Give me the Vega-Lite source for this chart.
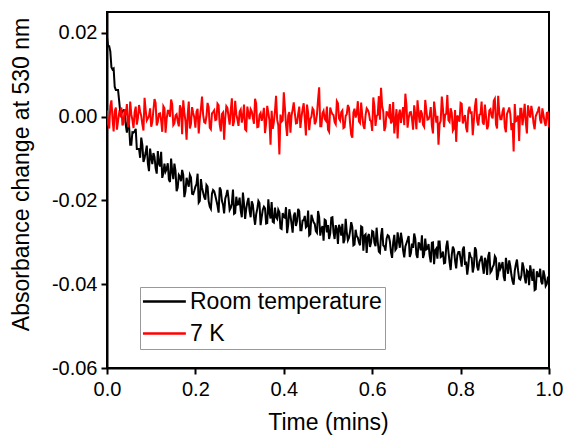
{
  "$schema": "https://vega.github.io/schema/vega-lite/v6.json",
  "width": 442,
  "height": 356,
  "autosize": {"type": "none"},
  "padding": {"left": 107, "top": 12, "right": 15, "bottom": 69},
  "background": "white",
  "config": {
    "font": "Liberation Sans",
    "view": {"stroke": "black", "strokeWidth": 2},
    "axis": {
      "domainColor": "black", "domainWidth": 2,
      "tickColor": "black", "tickWidth": 2, "tickSize": 6,
      "labelColor": "black", "labelFont": "Liberation Sans", "labelFontSize": 20,
      "titleColor": "black", "titleFont": "Liberation Sans", "titleFontSize": 23, "titleFontWeight": "normal",
      "grid": false
    }
  },
  "data": {"values": [
{"t":0,"rt":0.019,"k7":0.0015},
{"t":0.005,"rt":0.0168,"k7":-0.0028},
{"t":0.01,"rt":0.0118,"k7":0.0039},
{"t":0.015,"rt":0.0115,"k7":-0.0035},
{"t":0.02,"rt":0.0064,"k7":0.0022},
{"t":0.025,"rt":0.0064,"k7":-0.001},
{"t":0.03,"rt":0.0011,"k7":0.0004},
{"t":0.035,"rt":0.0013,"k7":-0.0021},
{"t":0.04,"rt":0.0016,"k7":0.0018},
{"t":0.045,"rt":-0.0038,"k7":0.003},
{"t":0.05,"rt":-0.0023,"k7":-0.0015},
{"t":0.055,"rt":-0.0067,"k7":0.0006},
{"t":0.06,"rt":-0.0038,"k7":-0.0027},
{"t":0.065,"rt":-0.0029,"k7":0.0024},
{"t":0.07,"rt":-0.0077,"k7":-0.0003},
{"t":0.075,"rt":-0.0098,"k7":0.0012},
{"t":0.08,"rt":-0.0067,"k7":-0.0018},
{"t":0.085,"rt":-0.0099,"k7":0.0045},
{"t":0.09,"rt":-0.0069,"k7":-0.0009},
{"t":0.095,"rt":-0.013,"k7":0.0002},
{"t":0.1,"rt":-0.0097,"k7":-0.0024},
{"t":0.105,"rt":-0.0087,"k7":0.0016},
{"t":0.11,"rt":-0.0123,"k7":0.0033},
{"t":0.115,"rt":-0.0082,"k7":-0.0012},
{"t":0.12,"rt":-0.0119,"k7":0.0008},
{"t":0.125,"rt":-0.0146,"k7":-0.0036},
{"t":0.13,"rt":-0.0112,"k7":0.002},
{"t":0.135,"rt":-0.0125,"k7":-0.0005},
{"t":0.14,"rt":-0.015,"k7":0.0014},
{"t":0.145,"rt":-0.01,"k7":0.0041},
{"t":0.15,"rt":-0.0149,"k7":-0.002},
{"t":0.155,"rt":-0.0129,"k7":0.0003},
{"t":0.16,"rt":-0.0169,"k7":-0.0011},
{"t":0.165,"rt":-0.0143,"k7":0.0027},
{"t":0.17,"rt":-0.0127,"k7":-0.0042},
{"t":0.175,"rt":-0.0192,"k7":0.001},
{"t":0.18,"rt":-0.0146,"k7":-0.0055},
{"t":0.185,"rt":-0.0167,"k7":0.0036},
{"t":0.19,"rt":-0.0145,"k7":-0.0017},
{"t":0.195,"rt":-0.0185,"k7":0.0009},
{"t":0.2,"rt":-0.0167,"k7":-0.0026},
{"t":0.205,"rt":-0.0136,"k7":0.0019},
{"t":0.21,"rt":-0.0201,"k7":-0.0004},
{"t":0.215,"rt":-0.017,"k7":0.0048},
{"t":0.22,"rt":-0.0192,"k7":-0.0013},
{"t":0.225,"rt":-0.0163,"k7":0.0001},
{"t":0.23,"rt":-0.0202,"k7":0.0023},
{"t":0.235,"rt":-0.022,"k7":-0.003},
{"t":0.24,"rt":-0.0175,"k7":0.0011},
{"t":0.245,"rt":-0.0188,"k7":-0.0008},
{"t":0.25,"rt":-0.0212,"k7":0.0031},
{"t":0.255,"rt":-0.0169,"k7":-0.0019},
{"t":0.26,"rt":-0.0201,"k7":0.0006},
{"t":0.265,"rt":-0.0231,"k7":-0.0055},
{"t":0.27,"rt":-0.0187,"k7":0.0025},
{"t":0.275,"rt":-0.0195,"k7":0},
{"t":0.28,"rt":-0.0218,"k7":0.0015},
{"t":0.285,"rt":-0.0174,"k7":-0.0022},
{"t":0.29,"rt":-0.023,"k7":0.0038},
{"t":0.295,"rt":-0.021,"k7":-0.0006},
{"t":0.3,"rt":-0.0193,"k7":0.0012},
{"t":0.305,"rt":-0.024,"k7":-0.0014},
{"t":0.31,"rt":-0.0208,"k7":0.0029},
{"t":0.315,"rt":-0.022,"k7":-0.0033},
{"t":0.32,"rt":-0.0194,"k7":0.0007},
{"t":0.325,"rt":-0.024,"k7":0.0018},
{"t":0.33,"rt":-0.021,"k7":-0.0002},
{"t":0.335,"rt":-0.0258,"k7":0.0043},
{"t":0.34,"rt":-0.022,"k7":-0.0025},
{"t":0.345,"rt":-0.0206,"k7":0.0004},
{"t":0.35,"rt":-0.024,"k7":-0.001},
{"t":0.355,"rt":-0.0215,"k7":0.0021},
{"t":0.36,"rt":-0.0255,"k7":-0.0016},
{"t":0.365,"rt":-0.0197,"k7":0.0009},
{"t":0.37,"rt":-0.0243,"k7":-0.0067},
{"t":0.375,"rt":-0.0251,"k7":-0.0029},
{"t":0.38,"rt":-0.0217,"k7":0.0013},
{"t":0.385,"rt":-0.0244,"k7":-0.0007},
{"t":0.39,"rt":-0.0228,"k7":-0.009},
{"t":0.395,"rt":-0.0268,"k7":-0.0012},
{"t":0.4,"rt":-0.0239,"k7":0.0058},
{"t":0.405,"rt":-0.0216,"k7":-0.002},
{"t":0.41,"rt":-0.0258,"k7":0.0003},
{"t":0.415,"rt":-0.0236,"k7":-0.0038},
{"t":0.42,"rt":-0.0277,"k7":0.0017},
{"t":0.425,"rt":-0.0229,"k7":0.0008},
{"t":0.43,"rt":-0.0249,"k7":-0.0015},
{"t":0.435,"rt":-0.0226,"k7":0.0024},
{"t":0.44,"rt":-0.0271,"k7":-0.0001},
{"t":0.445,"rt":-0.0247,"k7":0.0032},
{"t":0.45,"rt":-0.0264,"k7":-0.0045},
{"t":0.455,"rt":-0.0224,"k7":0.001},
{"t":0.46,"rt":-0.028,"k7":-0.0006},
{"t":0.465,"rt":-0.0244,"k7":0.002},
{"t":0.47,"rt":-0.0256,"k7":-0.0018},
{"t":0.475,"rt":-0.0277,"k7":0.0005},
{"t":0.48,"rt":-0.0239,"k7":0.007},
{"t":0.485,"rt":-0.0268,"k7":-0.0023},
{"t":0.49,"rt":-0.0296,"k7":0.0014},
{"t":0.495,"rt":-0.0248,"k7":-0.0009},
{"t":0.5,"rt":-0.0259,"k7":-0.0031},
{"t":0.505,"rt":-0.0279,"k7":0.0022},
{"t":0.51,"rt":-0.024,"k7":0.0006},
{"t":0.515,"rt":-0.0292,"k7":-0.0013},
{"t":0.52,"rt":-0.0268,"k7":0.0037},
{"t":0.525,"rt":-0.0258,"k7":-0.0004},
{"t":0.53,"rt":-0.0284,"k7":0.0011},
{"t":0.535,"rt":-0.0302,"k7":-0.0027},
{"t":0.54,"rt":-0.0244,"k7":0.0002},
{"t":0.545,"rt":-0.0295,"k7":0.0028},
{"t":0.55,"rt":-0.0273,"k7":-0.0016},
{"t":0.555,"rt":-0.0263,"k7":-0.005},
{"t":0.56,"rt":-0.0305,"k7":0.0019},
{"t":0.565,"rt":-0.0285,"k7":0.0007},
{"t":0.57,"rt":-0.03,"k7":-0.0011},
{"t":0.575,"rt":-0.0262,"k7":0.0034},
{"t":0.58,"rt":-0.032,"k7":-0.0021},
{"t":0.585,"rt":-0.0281,"k7":0.0004},
{"t":0.59,"rt":-0.0287,"k7":0.0016},
{"t":0.595,"rt":-0.0311,"k7":-0.0008},
{"t":0.6,"rt":-0.0273,"k7":-0.0034},
{"t":0.605,"rt":-0.0301,"k7":0.0025},
{"t":0.61,"rt":-0.0265,"k7":0.0001},
{"t":0.615,"rt":-0.0322,"k7":0.0049},
{"t":0.62,"rt":-0.0284,"k7":0.0069},
{"t":0.625,"rt":-0.0307,"k7":0.0012},
{"t":0.63,"rt":-0.032,"k7":-0.0024},
{"t":0.635,"rt":-0.0283,"k7":0.0006},
{"t":0.64,"rt":-0.0298,"k7":0.003},
{"t":0.645,"rt":-0.0337,"k7":-0.001},
{"t":0.65,"rt":-0.0282,"k7":-0.004},
{"t":0.655,"rt":-0.0314,"k7":0.0018},
{"t":0.66,"rt":-0.0295,"k7":0.0003},
{"t":0.665,"rt":-0.0277,"k7":-0.0015},
{"t":0.67,"rt":-0.032,"k7":0.0023},
{"t":0.675,"rt":-0.031,"k7":0.0055},
{"t":0.68,"rt":-0.0294,"k7":-0.0026},
{"t":0.685,"rt":-0.0335,"k7":0.001},
{"t":0.69,"rt":-0.0303,"k7":-0.0005},
{"t":0.695,"rt":-0.0279,"k7":0.0027},
{"t":0.7,"rt":-0.0329,"k7":-0.003},
{"t":0.705,"rt":-0.03,"k7":0.0008},
{"t":0.71,"rt":-0.0319,"k7":0.0015},
{"t":0.715,"rt":-0.0337,"k7":-0.0019},
{"t":0.72,"rt":-0.0291,"k7":0.004},
{"t":0.725,"rt":-0.0315,"k7":-0.0007},
{"t":0.73,"rt":-0.0332,"k7":0.0002},
{"t":0.735,"rt":-0.0301,"k7":-0.0022},
{"t":0.74,"rt":-0.0352,"k7":0.0036},
{"t":0.745,"rt":-0.0315,"k7":-0.0014},
{"t":0.75,"rt":-0.0298,"k7":-0.0067},
{"t":0.755,"rt":-0.0335,"k7":-0.001},
{"t":0.76,"rt":-0.0322,"k7":0.002},
{"t":0.765,"rt":-0.0349,"k7":0.0005},
{"t":0.77,"rt":-0.0296,"k7":0.0052},
{"t":0.775,"rt":-0.0347,"k7":-0.0012},
{"t":0.78,"rt":-0.033,"k7":0.0009},
{"t":0.785,"rt":-0.0317,"k7":-0.0028},
{"t":0.79,"rt":-0.0362,"k7":-0.006},
{"t":0.795,"rt":-0.0323,"k7":-0.0003},
{"t":0.8,"rt":-0.034,"k7":0.0033},
{"t":0.805,"rt":-0.0317,"k7":-0.0016},
{"t":0.81,"rt":-0.0354,"k7":0.0004},
{"t":0.815,"rt":-0.0377,"k7":-0.0037},
{"t":0.82,"rt":-0.0323,"k7":0.0024},
{"t":0.825,"rt":-0.0337,"k7":0.001},
{"t":0.83,"rt":-0.0357,"k7":-0.0009},
{"t":0.835,"rt":-0.0319,"k7":0.0044},
{"t":0.84,"rt":-0.0367,"k7":-0.0021},
{"t":0.845,"rt":-0.0341,"k7":0.0006},
{"t":0.85,"rt":-0.0357,"k7":-0.0013},
{"t":0.855,"rt":-0.0337,"k7":0.0029},
{"t":0.86,"rt":-0.0378,"k7":-0.003},
{"t":0.865,"rt":-0.0323,"k7":0.0015},
{"t":0.87,"rt":-0.0368,"k7":0.0002},
{"t":0.875,"rt":-0.0354,"k7":0.0038},
{"t":0.88,"rt":-0.0338,"k7":-0.0018},
{"t":0.885,"rt":-0.0377,"k7":0.005},
{"t":0.89,"rt":-0.0363,"k7":-0.0006},
{"t":0.895,"rt":-0.0347,"k7":0.0013},
{"t":0.9,"rt":-0.0392,"k7":-0.0025},
{"t":0.905,"rt":-0.0356,"k7":0.0007},
{"t":0.91,"rt":-0.0343,"k7":0.0022},
{"t":0.915,"rt":-0.0378,"k7":-0.0032},
{"t":0.92,"rt":-0.0401,"k7":-0.0083},
{"t":0.925,"rt":-0.0353,"k7":-0.0011},
{"t":0.93,"rt":-0.0367,"k7":0.0003},
{"t":0.935,"rt":-0.0389,"k7":0.0019},
{"t":0.94,"rt":-0.0348,"k7":-0.002},
{"t":0.945,"rt":-0.0384,"k7":0.0031},
{"t":0.95,"rt":-0.0367,"k7":-0.004},
{"t":0.955,"rt":-0.0402,"k7":0.0008},
{"t":0.96,"rt":-0.0374,"k7":0.0026},
{"t":0.965,"rt":-0.0363,"k7":-0.0015},
{"t":0.97,"rt":-0.0412,"k7":0.0001},
{"t":0.975,"rt":-0.0381,"k7":0.0014},
{"t":0.98,"rt":-0.0363,"k7":-0.0008},
{"t":0.985,"rt":-0.04,"k7":0.002},
{"t":0.99,"rt":-0.038,"k7":-0.0012},
{"t":0.995,"rt":-0.0399,"k7":0.0009},
{"t":1,"rt":-0.0384,"k7":-0.0025},
{"t":0.0025,"rt":0.0168,"k7":-0.0018},
{"t":0.0075,"rt":0.0156,"k7":0.0026},
{"t":0.0125,"rt":0.0113,"k7":-0.0005},
{"t":0.0175,"rt":0.0071,"k7":0.0013},
{"t":0.0225,"rt":0.0064,"k7":-0.0031},
{"t":0.0275,"rt":0.0038,"k7":0.0009},
{"t":0.0325,"rt":0.0008,"k7":0.0022},
{"t":0.0375,"rt":0.0016,"k7":-0.0014},
{"t":0.0425,"rt":-0.002,"k7":0.0003},
{"t":0.0475,"rt":-0.0009,"k7":-0.0025},
{"t":0.0525,"rt":-0.0067,"k7":0.0036},
{"t":0.0575,"rt":-0.0037,"k7":-0.0008},
{"t":0.0625,"rt":-0.0035,"k7":0.0011},
{"t":0.0675,"rt":-0.0077,"k7":-0.0019},
{"t":0.0725,"rt":-0.0077,"k7":0.0028},
{"t":0.0775,"rt":-0.005,"k7":0.0002},
{"t":0.0825,"rt":-0.0108,"k7":-0.0033},
{"t":0.0875,"rt":-0.0085,"k7":0.0016},
{"t":0.0925,"rt":-0.0112,"k7":-0.0004},
{"t":0.0975,"rt":-0.0076,"k7":0.002},
{"t":0.1025,"rt":-0.0113,"k7":-0.0012},
{"t":0.1075,"rt":-0.0096,"k7":0.0042},
{"t":0.1125,"rt":-0.0136,"k7":-0.0021},
{"t":0.1175,"rt":-0.0111,"k7":0.0007},
{"t":0.1225,"rt":-0.0084,"k7":-0.0009},
{"t":0.1275,"rt":-0.0135,"k7":0.0025},
{"t":0.1325,"rt":-0.0131,"k7":-0.0038},
{"t":0.1375,"rt":-0.0111,"k7":0.0014},
{"t":0.1425,"rt":-0.0156,"k7":0},
{"t":0.1475,"rt":-0.013,"k7":0.003},
{"t":0.1525,"rt":-0.0112,"k7":-0.0016},
{"t":0.1575,"rt":-0.0178,"k7":0.0006},
{"t":0.1625,"rt":-0.0139,"k7":-0.0023},
{"t":0.1675,"rt":-0.0154,"k7":0.0018},
{"t":0.1725,"rt":-0.0139,"k7":0.0039},
{"t":0.1775,"rt":-0.0178,"k7":-0.001},
{"t":0.1825,"rt":-0.0157,"k7":0.0004},
{"t":0.1875,"rt":-0.0139,"k7":-0.0028},
{"t":0.1925,"rt":-0.0184,"k7":0.0023},
{"t":0.1975,"rt":-0.0177,"k7":-0.0002},
{"t":0.2025,"rt":-0.0161,"k7":0.0012},
{"t":0.2075,"rt":-0.0205,"k7":-0.004},
{"t":0.2125,"rt":-0.0149,"k7":0.0019},
{"t":0.2175,"rt":-0.0181,"k7":0.0005},
{"t":0.2225,"rt":-0.0198,"k7":-0.0015},
{"t":0.2275,"rt":-0.0167,"k7":0.0033},
{"t":0.2325,"rt":-0.0215,"k7":-0.0026},
{"t":0.2375,"rt":-0.0184,"k7":0.0008},
{"t":0.2425,"rt":-0.0178,"k7":0.0015},
{"t":0.2475,"rt":-0.02,"k7":-0.0007},
{"t":0.2525,"rt":-0.0229,"k7":0.0027},
{"t":0.2575,"rt":-0.0175,"k7":-0.0035},
{"t":0.2625,"rt":-0.021,"k7":0.001},
{"t":0.2675,"rt":-0.0196,"k7":-0.0003},
{"t":0.2725,"rt":-0.0175,"k7":0.0021},
{"t":0.2775,"rt":-0.0223,"k7":-0.0019},
{"t":0.2825,"rt":-0.0207,"k7":0.0044},
{"t":0.2875,"rt":-0.0232,"k7":-0.0011},
{"t":0.2925,"rt":-0.0191,"k7":0.0006},
{"t":0.2975,"rt":-0.0209,"k7":-0.0022},
{"t":0.3025,"rt":-0.0224,"k7":0.0017},
{"t":0.3075,"rt":-0.0181,"k7":0.0001},
{"t":0.3125,"rt":-0.0244,"k7":-0.003},
{"t":0.3175,"rt":-0.0204,"k7":0.0024},
{"t":0.3225,"rt":-0.0224,"k7":-0.0006},
{"t":0.3275,"rt":-0.0202,"k7":0.0013},
{"t":0.3325,"rt":-0.0238,"k7":-0.0017},
{"t":0.3375,"rt":-0.0233,"k7":0.0031},
{"t":0.3425,"rt":-0.0201,"k7":-0.0024},
{"t":0.3475,"rt":-0.0259,"k7":0.0009},
{"t":0.3525,"rt":-0.0222,"k7":0.0002},
{"t":0.3575,"rt":-0.0219,"k7":-0.0039},
{"t":0.3625,"rt":-0.0254,"k7":0.0026},
{"t":0.3675,"rt":-0.0229,"k7":-0.0008},
{"t":0.3725,"rt":-0.0204,"k7":0.0014},
{"t":0.3775,"rt":-0.0253,"k7":-0.0013},
{"t":0.3825,"rt":-0.024,"k7":0.005},
{"t":0.3875,"rt":-0.0222,"k7":-0.002},
{"t":0.3925,"rt":-0.0266,"k7":0.0005},
{"t":0.3975,"rt":-0.023,"k7":-0.0009},
{"t":0.4025,"rt":-0.0241,"k7":0.0022},
{"t":0.4075,"rt":-0.0278,"k7":-0.0046},
{"t":0.4125,"rt":-0.0221,"k7":0.0011},
{"t":0.4175,"rt":-0.0255,"k7":0.0003},
{"t":0.4225,"rt":-0.0237,"k7":0.0034},
{"t":0.4275,"rt":-0.0261,"k7":-0.0016},
{"t":0.4325,"rt":-0.022,"k7":0.0007},
{"t":0.4375,"rt":-0.0271,"k7":-0.0027},
{"t":0.4425,"rt":-0.0248,"k7":0.0018},
{"t":0.4475,"rt":-0.0237,"k7":-0.0004},
{"t":0.4525,"rt":-0.0261,"k7":0.0029},
{"t":0.4575,"rt":-0.0283,"k7":-0.0032},
{"t":0.4625,"rt":-0.0234,"k7":0},
{"t":0.4675,"rt":-0.0252,"k7":0.0016},
{"t":0.4725,"rt":-0.0273,"k7":-0.0012},
{"t":0.4775,"rt":-0.0225,"k7":0.0041},
{"t":0.4825,"rt":-0.0284,"k7":-0.0023},
{"t":0.4875,"rt":-0.0261,"k7":0.0008},
{"t":0.4925,"rt":-0.0246,"k7":-0.0005},
{"t":0.4975,"rt":-0.0276,"k7":0.0024},
{"t":0.5025,"rt":-0.0292,"k7":-0.0036},
{"t":0.5075,"rt":-0.0241,"k7":0.0012},
{"t":0.5125,"rt":-0.0276,"k7":0.0004},
{"t":0.5175,"rt":-0.0259,"k7":-0.0018},
{"t":0.5225,"rt":-0.0304,"k7":0.0032},
{"t":0.5275,"rt":-0.0266,"k7":-0.0009},
{"t":0.5325,"rt":-0.0256,"k7":0.0015},
{"t":0.5375,"rt":-0.0294,"k7":-0.0025},
{"t":0.5425,"rt":-0.0276,"k7":0.0006},
{"t":0.5475,"rt":-0.0289,"k7":0.0021},
{"t":0.5525,"rt":-0.0252,"k7":-0.0043},
{"t":0.5575,"rt":-0.0307,"k7":0.001},
{"t":0.5625,"rt":-0.027,"k7":-0.0002},
{"t":0.5675,"rt":-0.0289,"k7":0.0037},
{"t":0.5725,"rt":-0.0307,"k7":-0.0015},
{"t":0.5775,"rt":-0.0264,"k7":0.0003},
{"t":0.5825,"rt":-0.0284,"k7":-0.0029},
{"t":0.5875,"rt":-0.0325,"k7":0.002},
{"t":0.5925,"rt":-0.028,"k7":0.0009},
{"t":0.5975,"rt":-0.03,"k7":-0.0011},
{"t":0.6025,"rt":-0.0275,"k7":0.0046},
{"t":0.6075,"rt":-0.0309,"k7":-0.0022},
{"t":0.6125,"rt":-0.0298,"k7":0.0005},
{"t":0.6175,"rt":-0.0325,"k7":-0.0007},
{"t":0.6225,"rt":-0.0266,"k7":0.0026},
{"t":0.6275,"rt":-0.031,"k7":-0.0034},
{"t":0.6325,"rt":-0.0291,"k7":0.0013},
{"t":0.6375,"rt":-0.0285,"k7":0.0001},
{"t":0.6425,"rt":-0.0324,"k7":-0.0016},
{"t":0.6475,"rt":-0.03,"k7":0.0035},
{"t":0.6525,"rt":-0.0318,"k7":-0.001},
{"t":0.6575,"rt":-0.0276,"k7":-0.0052},
{"t":0.6625,"rt":-0.0313,"k7":0.0017},
{"t":0.6675,"rt":-0.0294,"k7":0.0006},
{"t":0.6725,"rt":-0.0336,"k7":-0.002},
{"t":0.6775,"rt":-0.0302,"k7":0.0028},
{"t":0.6825,"rt":-0.0285,"k7":-0.0003},
{"t":0.6875,"rt":-0.0326,"k7":0.0011},
{"t":0.6925,"rt":-0.0313,"k7":-0.0031},
{"t":0.6975,"rt":-0.0291,"k7":0.0004},
{"t":0.7025,"rt":-0.0337,"k7":0.0039},
{"t":0.7075,"rt":-0.0306,"k7":-0.0014},
{"t":0.7125,"rt":-0.0283,"k7":0.0008},
{"t":0.7175,"rt":-0.0328,"k7":-0.0024},
{"t":0.7225,"rt":-0.0317,"k7":0.0015},
{"t":0.7275,"rt":-0.0304,"k7":-0.0006},
{"t":0.7325,"rt":-0.0348,"k7":0.0023},
{"t":0.7375,"rt":-0.03,"k7":-0.004},
{"t":0.7425,"rt":-0.0319,"k7":0.0012},
{"t":0.7475,"rt":-0.0339,"k7":0.0002},
{"t":0.7525,"rt":-0.0298,"k7":-0.0017},
{"t":0.7575,"rt":-0.0333,"k7":0.0048},
{"t":0.7625,"rt":-0.035,"k7":-0.0025},
{"t":0.7675,"rt":-0.0311,"k7":0.0007},
{"t":0.7725,"rt":-0.0322,"k7":-0.0008},
{"t":0.7775,"rt":-0.0366,"k7":0.002},
{"t":0.7825,"rt":-0.031,"k7":-0.0033},
{"t":0.7875,"rt":-0.0344,"k7":0.0016},
{"t":0.7925,"rt":-0.0331,"k7":0.0003},
{"t":0.7975,"rt":-0.0323,"k7":-0.0012},
{"t":0.8025,"rt":-0.0358,"k7":0.0031},
{"t":0.8075,"rt":-0.031,"k7":-0.0005},
{"t":0.8125,"rt":-0.0346,"k7":-0.0026},
{"t":0.8175,"rt":-0.0356,"k7":0.0014},
{"t":0.8225,"rt":-0.0334,"k7":0.0009},
{"t":0.8275,"rt":-0.0372,"k7":-0.0044},
{"t":0.8325,"rt":-0.0312,"k7":0.0025},
{"t":0.8375,"rt":-0.0358,"k7":-0.001},
{"t":0.8425,"rt":-0.0347,"k7":0.0005},
{"t":0.8475,"rt":-0.0332,"k7":0.0036},
{"t":0.8525,"rt":-0.0375,"k7":-0.0019},
{"t":0.8575,"rt":-0.0345,"k7":0.0001},
{"t":0.8625,"rt":-0.0333,"k7":-0.0021},
{"t":0.8675,"rt":-0.0372,"k7":0.0018},
{"t":0.8725,"rt":-0.0359,"k7":-0.0004},
{"t":0.8775,"rt":-0.0333,"k7":0.0043},
{"t":0.8825,"rt":-0.039,"k7":-0.0028},
{"t":0.8875,"rt":-0.0348,"k7":0.001},
{"t":0.8925,"rt":-0.0357,"k7":-0.0006},
{"t":0.8975,"rt":-0.0382,"k7":0.0022},
{"t":0.9025,"rt":-0.0337,"k7":-0.0037},
{"t":0.9075,"rt":-0.0375,"k7":0.0013},
{"t":0.9125,"rt":-0.0357,"k7":0.0006},
{"t":0.9175,"rt":-0.0393,"k7":-0.0015},
{"t":0.9225,"rt":-0.0368,"k7":0.003},
{"t":0.9275,"rt":-0.0341,"k7":-0.0009},
{"t":0.9325,"rt":-0.0387,"k7":-0.0058},
{"t":0.9375,"rt":-0.038,"k7":0.0019},
{"t":0.9425,"rt":-0.0359,"k7":0.0002},
{"t":0.9475,"rt":-0.0398,"k7":-0.0013},
{"t":0.9525,"rt":-0.037,"k7":0.0027},
{"t":0.9575,"rt":-0.0355,"k7":-0.0002},
{"t":0.9625,"rt":-0.0392,"k7":0.0011},
{"t":0.9675,"rt":-0.0414,"k7":-0.003},
{"t":0.9725,"rt":-0.0369,"k7":0.0008},
{"t":0.9775,"rt":-0.0381,"k7":0.0024},
{"t":0.9825,"rt":-0.0394,"k7":-0.0016},
{"t":0.9875,"rt":-0.0367,"k7":0.0004},
{"t":0.9925,"rt":-0.0404,"k7":-0.0022},
{"t":0.9975,"rt":-0.0384,"k7":0.001}
  ]},
  "transform": [{"fold": ["rt", "k7"], "as": ["series", "value"]}],
  "mark": {"type": "line", "strokeWidth": 2, "clip": true},
  "encoding": {
    "x": {
      "field": "t", "type": "quantitative",
      "scale": {"domain": [0, 1], "nice": false, "zero": false},
      "axis": {"title": "Time (mins)", "values": [0, 0.2, 0.4, 0.6, 0.8, 1.0], "format": ".1f", "labelPadding": 5, "titlePadding": 12, "labelFlush": false}
    },
    "y": {
      "field": "value", "type": "quantitative",
      "scale": {"domain": [-0.06, 0.025], "nice": false, "zero": false},
      "axis": {"title": "Absorbance change at 530 nm", "titleY": 162, "values": [-0.06, -0.04, -0.02, 0, 0.02], "labelExpr": "replace(format(datum.value, '.2f'), '\u2212', '-')", "labelPadding": 4, "titlePadding": 18}
    },
    "color": {
      "field": "series", "type": "nominal",
      "scale": {"domain": ["rt", "k7"], "range": ["#000000", "#ff0000"]},
      "legend": {
        "title": null, "orient": "none", "legendX": 33, "legendY": 275,
        "labelExpr": "datum.label == 'rt' ? 'Room temperature' : '7 K'",
        "labelFont": "Liberation Sans", "labelFontSize": 23, "labelColor": "black", "labelLimit": 400,
        "symbolType": "M-2.1,0H5.7", "symbolSize": 121, "symbolStrokeWidth": 2.5,
        "strokeColor": "#999999", "fillColor": "white", "padding": 3,
        "labelOffset": 24, "rowPadding": 8
      }
    }
  }
}
